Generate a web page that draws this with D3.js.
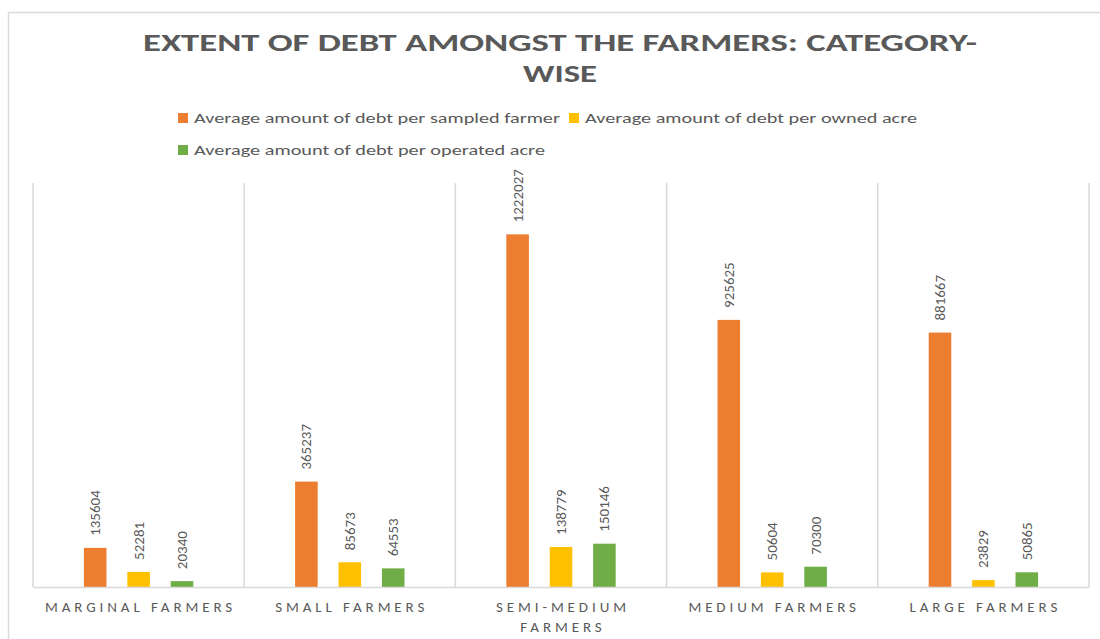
<!DOCTYPE html>
<html>
<head>
<meta charset="utf-8">
<script src="https://cdn.jsdelivr.net/npm/d3@7"></script>
<style>
  html, body { margin: 0; padding: 0; background: #fff; }
  svg { display: block; }
  text { font-family: Carlito, Lato, "Open Sans", sans-serif; fill: #595959; }
</style>
</head>
<body>
<svg id="chart" width="1100" height="639"></svg>
<script>
const categories = ["MARGINAL FARMERS", "SMALL FARMERS", "SEMI-MEDIUM FARMERS", "MEDIUM FARMERS", "LARGE FARMERS"];
const seriesNames = [
  "Average amount of debt per sampled farmer",
  "Average amount of debt per owned acre",
  "Average amount of debt per operated acre"
];
const perSampledFarmer = [135604, 365237, 1222027, 925625, 881667];
const perOwnedAcre = [52281, 85673, 138779, 50604, 23829];
const perOperatedAcre = [20340, 64553, 150146, 70300, 50865];
const seriesColors = ["#ED7D31", "#FFC000", "#70AD47"];
const yMax = 1400000;
const titleLines = ["EXTENT OF DEBT AMONGST THE FARMERS: CATEGORY-", "WISE"];

const seriesValues = [perSampledFarmer, perOwnedAcre, perOperatedAcre];

const svg = d3.select("#chart");
const plot = { left: 33, right: 1089, top: 183, bottom: 587 };

// chart border
svg.append("rect")
  .attr("x", 8.5).attr("y", 12.5)
  .attr("width", 1200).attr("height", 800)
  .attr("fill", "none").attr("stroke", "#d9d9d9").attr("stroke-width", 1.5);

// title
const titleWidths = [834, 74];
const titleG = svg.append("g");
titleLines.forEach((t, i) => {
  titleG.append("text")
    .attr("x", 560).attr("y", 51 + i * 31)
    .attr("text-anchor", "middle")
    .attr("font-size", 25).attr("font-weight", "bold")
    .attr("textLength", titleWidths[i]).attr("lengthAdjust", "spacingAndGlyphs")
    .text(t);
});

// legend
const legendPos = [
  { x: 178, y: 118, w: 366 },
  { x: 569, y: 118, w: 332 },
  { x: 178, y: 150, w: 351 }
];
const leg = svg.append("g");
seriesNames.forEach((name, i) => {
  const p = legendPos[i];
  leg.append("rect").attr("x", p.x).attr("y", p.y - 5).attr("width", 10).attr("height", 10)
    .attr("fill", seriesColors[i]);
  leg.append("text").attr("x", p.x + 16).attr("y", p.y + 5)
    .attr("font-size", 15)
    .attr("textLength", p.w).attr("lengthAdjust", "spacingAndGlyphs")
    .text(name);
});

// scales
const x0 = d3.scaleBand().domain(categories).range([plot.left, plot.right]).padding(0);
const x1 = d3.scaleBand().domain(d3.range(seriesNames.length)).range([0, x0.bandwidth()])
  .paddingInner(0.48).paddingOuter(1.173);
const y = d3.scaleLinear().domain([0, yMax]).range([plot.bottom, plot.top]);

// vertical gridlines at category boundaries
const bounds = categories.map(c => x0(c)).concat([plot.right]);
svg.append("g").selectAll("line").data(bounds).join("line")
  .attr("x1", d => d).attr("x2", d => d)
  .attr("y1", plot.top).attr("y2", plot.bottom)
  .attr("stroke", "#d9d9d9").attr("stroke-width", 1.5);

// bars
const barsG = svg.append("g");
seriesValues.forEach((vals, si) => {
  barsG.selectAll(null).data(vals).join("rect")
    .attr("x", (d, ci) => x0(categories[ci]) + x1(si))
    .attr("width", x1.bandwidth())
    .attr("y", d => y(d))
    .attr("height", d => y(0) - y(d))
    .attr("fill", seriesColors[si]);
});

// data labels
const labG = svg.append("g");
seriesValues.forEach((vals, si) => {
  labG.selectAll(null).data(vals).join("text")
    .attr("transform", (d, ci) => {
      const cx = x0(categories[ci]) + x1(si) + x1.bandwidth() / 2;
      return `translate(${cx},${y(d) - 12}) rotate(-90)`;
    })
    .attr("text-anchor", "start")
    .attr("dominant-baseline", "central")
    .attr("font-size", 15)
    .text(d => d);
});

// x axis baseline
const xAxis = d3.axisBottom(x0).tickSize(0).tickFormat("");
const axG = svg.append("g").attr("transform", `translate(0,${plot.bottom})`).call(xAxis);
axG.select(".domain").attr("stroke", "#d9d9d9").attr("stroke-width", 1.5);

// category labels with wrapping
const LS = 3.9, FS = 15;
const catG = svg.append("g");
categories.forEach(c => {
  const cx = x0(c) + x0.bandwidth() / 2;
  const t = catG.append("text").attr("x", cx).attr("y", 612)
    .attr("text-anchor", "middle").attr("font-size", FS)
    .attr("letter-spacing", LS + "px");
  const words = c.split(" ");
  let lines = [];
  let cur = [];
  const probe = catG.append("text").attr("font-size", FS).attr("letter-spacing", LS + "px");
  words.forEach(w => {
    const test = cur.concat([w]).join(" ");
    probe.text(test);
    if (probe.node().getComputedTextLength() > x0.bandwidth() - 6 && cur.length) {
      lines.push(cur.join(" "));
      cur = [w];
    } else cur.push(w);
  });
  lines.push(cur.join(" "));
  probe.remove();
  lines.forEach((ln, i) => {
    t.append("tspan").attr("x", cx + LS / 2).attr("dy", i === 0 ? 0 : 20).text(ln);
  });
});
</script>
</body>
</html>
